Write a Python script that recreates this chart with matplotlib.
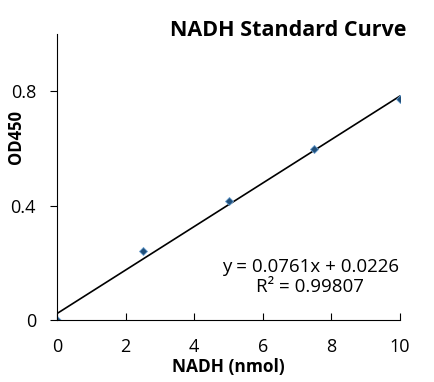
import matplotlib.pyplot as plt
import numpy as np

plt.rcParams['font.family'] = ['Open Sans', 'DejaVu Sans']

nadh = [0, 2.5, 5, 7.5, 10]
od450 = [0.0, 0.24, 0.415, 0.598, 0.772]
slope = 0.0761
intercept = 0.0226

fig = plt.figure(figsize=(4.34, 3.82), dpi=100)
ax = fig.add_axes([0.131, 0.162, 0.791, 0.749])

xs = np.array([0, 10])
ax.plot(xs, slope * xs + intercept, color='black', lw=1.2)
ax.plot(nadh, od450, linestyle='none', marker='D', ms=4,
        color='#1f4e79', markeredgecolor='#6a9fd0', markeredgewidth=0.6)

ax.set_xlim(0, 10)
ax.set_ylim(0, 1.0)
ax.set_xticks([0, 2, 4, 6, 8, 10])
ax.set_yticks([0, 0.4, 0.8])
ax.set_yticklabels(['0', '0.4', '0.8'])
ax.spines['top'].set_visible(False)
ax.spines['right'].set_visible(False)
ax.tick_params(axis='x', direction='in', length=5, labelsize=13, pad=13)
ax.tick_params(axis='y', direction='out', length=5, labelsize=13, pad=10)

ax.set_xlabel('NADH (nmol)', fontsize=12.5, fontweight='bold', labelpad=1)
ax.set_ylabel('OD450', fontsize=12, fontweight='bold')
ax.yaxis.set_label_coords(-0.093, 0.64)
fig.text(0.665, 0.893, 'NADH Standard Curve', fontsize=15.5,
         fontweight='bold', ha='center', va='bottom')

ax.text(7.38, 0.15, 'y = 0.0761x + 0.0226\nR² = 0.99807',
        fontsize=13.5, ha='center', va='center', linespacing=1.15)

fig.savefig('out.png', dpi=100)
